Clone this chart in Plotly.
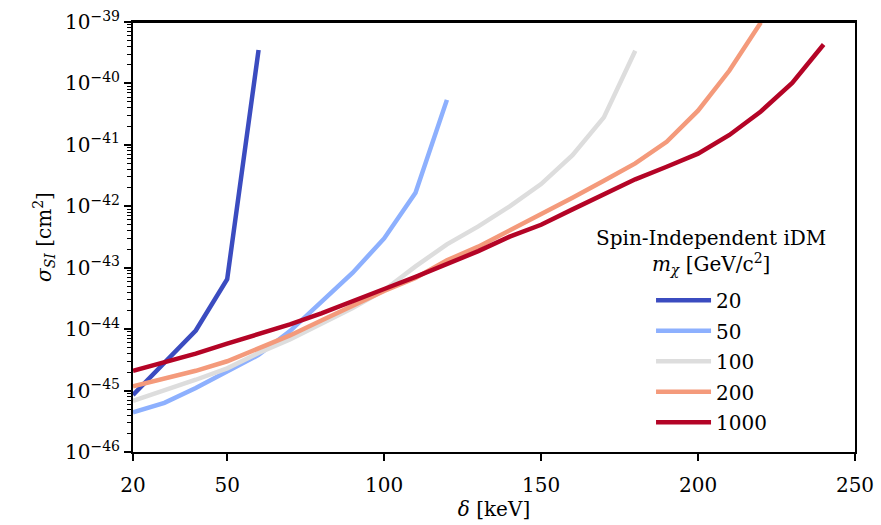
import plotly.graph_objects as go

# ---- data ----
delta_20 = [20, 30, 40, 50, 60]
sigma_20 = [8.5e-46, 2.8e-45, 9.5e-45, 6.5e-44, 3.5e-40]

delta_50 = [20, 30, 40, 50, 60, 70, 80, 90, 100, 110, 120]
sigma_50 = [4.4e-46, 6.3e-46, 1.1e-45, 2.0e-45, 3.8e-45, 9.3e-45, 2.8e-44,
            8.3e-44, 3.0e-43, 1.66e-42, 5.4e-41]

delta_100 = [20, 30, 40, 50, 60, 70, 80, 90, 100, 110, 120, 130, 140, 150,
             160, 170, 180]
sigma_100 = [6.8e-46, 1.0e-45, 1.5e-45, 2.3e-45, 4.1e-45, 6.8e-45, 1.2e-44,
             2.2e-44, 4.3e-44, 1.05e-43, 2.4e-43, 4.7e-43, 1.0e-42, 2.3e-42,
             6.8e-42, 2.8e-41, 3.4e-40]

delta_200 = [20, 30, 40, 50, 60, 70, 80, 90, 100, 110, 120, 130, 140, 150,
             160, 170, 180, 190, 200, 210, 220]
sigma_200 = [1.17e-45, 1.55e-45, 2.1e-45, 3.0e-45, 4.9e-45, 7.9e-45, 1.38e-44,
             2.4e-44, 4.2e-44, 6.8e-44, 1.32e-43, 2.2e-43, 4.0e-43, 7.6e-43,
             1.38e-42, 2.6e-42, 5.0e-42, 1.12e-41, 3.6e-41, 1.62e-40, 9.8e-40]

delta_1000 = [20, 30, 40, 50, 60, 70, 80, 90, 100, 110, 120, 130, 140, 150,
              160, 170, 180, 190, 200, 210, 220, 230, 240]
sigma_1000 = [2.1e-45, 2.9e-45, 4.0e-45, 5.8e-45, 8.3e-45, 1.2e-44, 1.8e-44,
              2.8e-44, 4.5e-44, 7.1e-44, 1.15e-43, 1.86e-43, 3.2e-43, 5.0e-43,
              8.9e-43, 1.58e-42, 2.75e-42, 4.4e-42, 7.2e-42, 1.45e-41,
              3.5e-41, 1.02e-40, 4.3e-40]

mass_labels = ["20", "50", "100", "200", "1000"]
colors = ["#3b4cc0", "#8db0fe", "#dddddd", "#f49a7b", "#b40426"]

x_ticks = [20, 50, 100, 150, 200, 250]
y_exponents = [-46, -45, -44, -43, -42, -41, -40, -39]

series = [(delta_20, sigma_20), (delta_50, sigma_50), (delta_100, sigma_100),
          (delta_200, sigma_200), (delta_1000, sigma_1000)]

FONT = "DejaVu Serif, Liberation Serif, serif"

fig = go.Figure()
for (xs, ys), lab, col in zip(series, mass_labels, colors):
    fig.add_trace(go.Scatter(x=xs, y=ys, mode="lines", name=lab,
                             legendgroup=lab,
                             line=dict(color=col, width=4.5)))

y_tickvals = [10.0 ** e for e in y_exponents]
y_ticktext = ["10<sup>\u2212%d</sup>" % (-e) for e in y_exponents]
minor_vals = [k * 10.0 ** e for e in y_exponents[:-1] for k in range(2, 10)]

fig.update_layout(
    width=881, height=525,
    margin=dict(l=133, r=26, t=21.5, b=72.5, autoexpand=False),
    paper_bgcolor="white", plot_bgcolor="white",
    font=dict(family=FONT, size=20, color="black"),
    showlegend=True,
    legend=dict(x=0.7175, y=0.398, xanchor="left", yanchor="top",
                bgcolor="rgba(0,0,0,0)", borderwidth=0,
                tracegroupgap=1.5, itemwidth=55,
                font=dict(family=FONT, size=20, color="black")),
    annotations=[dict(
        text="Spin-Independent iDM<br><i>m<sub>\u03c7</sub></i> [GeV/c<sup>2</sup>]",
        x=0.801, y=0.464, xref="paper", yref="paper",
        xanchor="center", yanchor="middle", showarrow=False, align="center",
        font=dict(family=FONT, size=20, color="black"))],
    # top frame edge drawn explicitly (2 px tall strip on the plot top)
    shapes=[dict(type="rect", xref="paper", yref="paper",
                 x0=0, x1=1, ysizemode="pixel", yanchor=1, y0=-1, y1=1,
                 fillcolor="black", line=dict(width=0), layer="above")],
)

fig.update_xaxes(
    range=[20, 250], tickmode="array", tickvals=x_ticks,
    ticktext=[str(v) for v in x_ticks], automargin=False,
    ticks="outside", ticklen=7, tickwidth=1.5, tickcolor="black",
    ticklabelstandoff=7, ticklabeloverflow="allow",
    showline=True, linecolor="black", linewidth=2, mirror=True,
    showgrid=False, zeroline=False,
    title=dict(text="<i>\u03b4</i> [keV]", standoff=6,
               font=dict(family=FONT, size=20)),
    tickfont=dict(family=FONT, size=20),
)
fig.update_yaxes(
    type="log", range=[-46, -39], tickmode="array", tickvals=y_tickvals,
    ticktext=y_ticktext, automargin=False, ticklabeloverflow="allow",
    ticks="outside", ticklen=7, tickwidth=1.5, tickcolor="black",
    minor=dict(tickmode="array", tickvals=minor_vals, ticks="outside",
               ticklen=4, tickwidth=1, tickcolor="black", showgrid=False),
    showline=True, linecolor="black", linewidth=2, mirror=True,
    showgrid=False, zeroline=False,
    title=dict(text="<i>\u03c3<sub>SI</sub></i> [cm<sup>2</sup>]", standoff=8,
               font=dict(family=FONT, size=20)),
    tickfont=dict(family=FONT, size=20),
)

fig.write_html("out.html", config={"displayModeBar": False},
               post_script="document.body.style.margin='0';")
